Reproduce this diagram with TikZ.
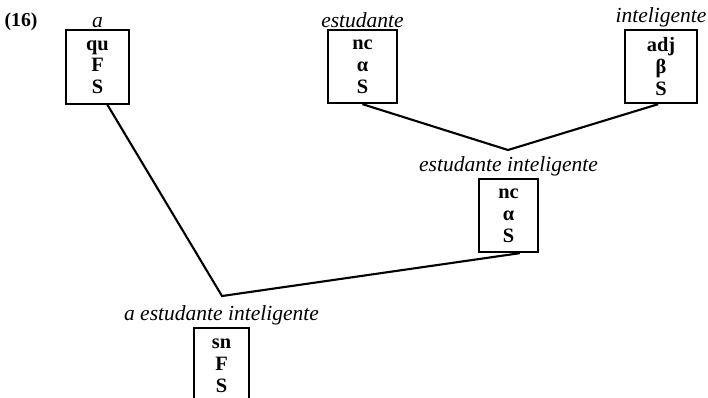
\documentclass[tikz,border=0pt]{standalone}
\usepackage{fontspec}
\setmainfont{Liberation Serif}
\usepackage{tikz}

\begin{document}
\begin{tikzpicture}[x=0.025cm, y=-0.025cm, line width=1.5pt,
  every node/.style={font=\fontsize{13}{15.5}\selectfont},
  cat/.style={draw, align=center, minimum height=1.83cm, inner sep=0pt, font=\fontsize{14.5}{15.5}\selectfont\bfseries},
  word/.style={label distance=-3pt, font=\fontsize{15.3}{17}\selectfont\itshape}]
\useasboundingbox (0,0) rectangle (708,397);

% Number
\node[font=\fontsize{14}{16}\selectfont\bfseries] (num) at (21,22) {(16)};

% Boxes
\node[cat, minimum width=1.58cm, label={[word]90:a}] (qu) at (97.5,67) {qu\\F\\S};
\node[cat, minimum width=1.72cm, label={[word]90:estudante}] (nc) at (362.5,66.5) {nc\\α\\S};
\node[cat, minimum width=1.8cm, label={[word]90:inteligente}] (adj) at (661,66.5) {adj\\β\\S};
\node[cat, minimum width=1.48cm, label={[word]90:estudante inteligente}] (ncb) at (508.5,215.5) {nc\\α\\S};
\node[cat, minimum width=1.38cm, minimum height=1.92cm, label={[word]90:a estudante inteligente}] (sn) at (221.5,366) {sn\\F\\S};

% Joints
\coordinate (j1) at (222,296);
\coordinate (j2) at (508,150);

%Lines
\draw ([xshift=7pt]qu.south) -- (j1) -- ([xshift=8pt]ncb.south);
\draw (nc.south) -- (j2) -- ([xshift=-2pt]adj.south);
\end{tikzpicture}
\end{document}
